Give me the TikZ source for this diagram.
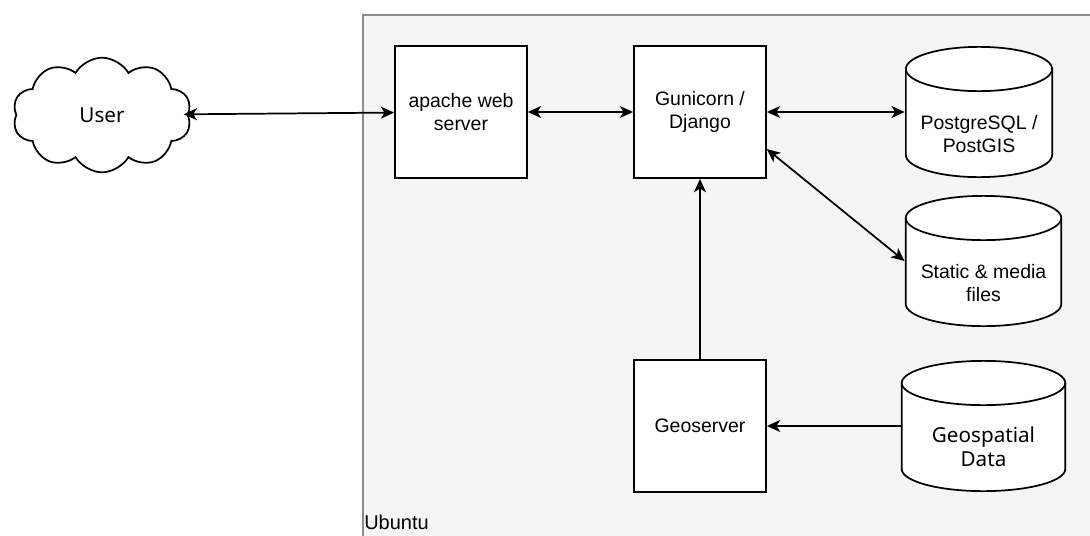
\documentclass[tikz,border=0pt]{standalone}
\usepackage{fontspec}
\setmainfont{Liberation Sans}
\newfontfamily\humanfont{Noto Sans}
\usepackage{tikz}
\usetikzlibrary{shapes.symbols, arrows.meta}
\definecolor{hostfill}{HTML}{F5F5F5}
\definecolor{hostline}{HTML}{8C8C8C}
\tikzset{
  block/.style={rectangle, draw, fill=white, line width=1.3pt, minimum width=99pt, minimum height=99pt, align=center, font=\fontsize{14.6}{17}\selectfont},
  store/.style={rectangle, minimum width=#1, minimum height=99pt, align=center, text height=60.5pt, font=\fontsize{14.6}{17}\selectfont,
    path picture={
      \draw[line width=1.3pt, fill=white]
        ([shift={(0.65pt,-17.25pt)}]path picture bounding box.north west)
        -- ([shift={(0.65pt,17.25pt)}]path picture bounding box.south west)
        arc[start angle=180, end angle=360, x radius=#1/2-0.65pt, y radius=16.6pt]
        -- ([shift={(-0.65pt,-17.25pt)}]path picture bounding box.north east)
        arc[start angle=0, end angle=180, x radius=#1/2-0.65pt, y radius=16.6pt] -- cycle;
      \draw[line width=1.3pt]
        ([shift={(0.65pt,-17.25pt)}]path picture bounding box.north west)
        arc[start angle=180, end angle=360, x radius=#1/2-0.65pt, y radius=16.6pt];
    }},
  link/.style={{Stealth[length=10pt, width=9pt, inset=2.8pt]}-{Stealth[length=10pt, width=9pt, inset=2.8pt]}, line width=1.3pt},
  flow/.style={-{Stealth[length=10pt, width=9pt, inset=2.8pt]}, line width=1.3pt},
}

\begin{document}
\begin{tikzpicture}[x=0.75pt, y=-0.75pt]
  \useasboundingbox (0,0) rectangle (1090,536);

  % Ubuntu host
  \node[rectangle, draw=hostline, fill=hostfill, line width=1.3pt, anchor=north west, minimum width=553pt, minimum height=399pt] (host) at (362,14) {};
  \node[anchor=base west, inner sep=0pt, font=\fontsize{15}{18}\selectfont] (hostlabel) at (364,529) {Ubuntu};

  % Client
  \node[cloud, draw, fill=white, cloud puffs=10, cloud puff arc=120, aspect=1.6, minimum width=134pt, minimum height=86pt, line width=1.3pt, font=\humanfont\fontsize{15.5}{18}\selectfont] (user) at (102,115) {User};

  % Servers
  \node[block] (apache) at (461,112) {apache web\\server};
  \node[block] (gunicorn) at (700,112) {Gunicorn /\\Django};
  \node[block] (geoserver) at (700,426) {Geoserver};

  % Storage
  \node[store=111pt] (postgres) at (979,112) {PostgreSQL /\\PostGIS};
  \node[store=118pt] (static) at (983.5,261) {Static \& media\\files};
  \node[store=124pt, text height=61.5pt, font=\humanfont\fontsize{15.5}{18}\selectfont] (geodata) at (983.5,426) {Geospatial\\Data};

  % Connections
  \draw[link, shorten <=-4pt] (user) -- (apache);
  \draw[link] (apache) -- (gunicorn);
  \draw[link] (gunicorn) -- (postgres);
  \draw[link] (gunicorn.-29) -- (static.west);
  \draw[flow] (geoserver) -- (gunicorn);
  \draw[flow] (geodata) -- (geoserver);

\end{tikzpicture}
\end{document}
